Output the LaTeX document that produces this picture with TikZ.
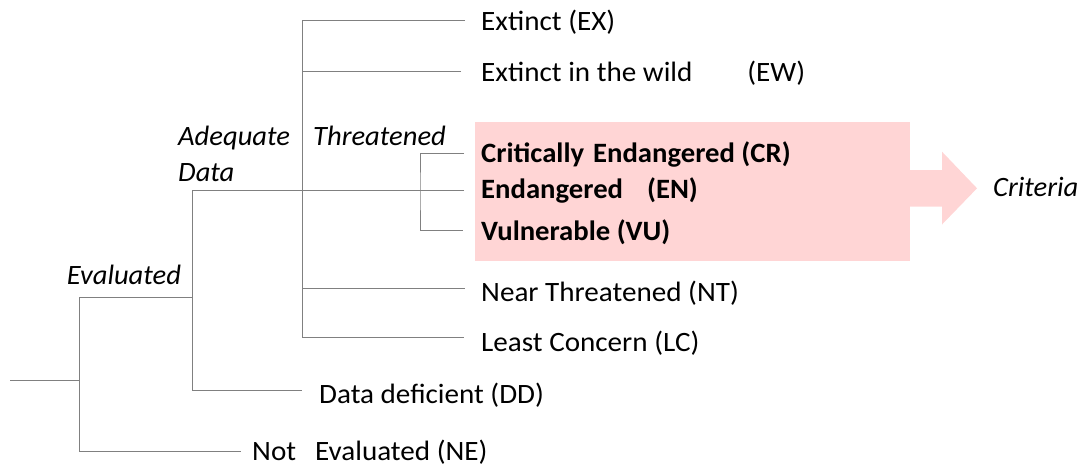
\documentclass[tikz,border=0pt]{standalone}
\usepackage{fontspec}
\setmainfont{Carlito}[UprightFeatures={FakeStretch=1.04},BoldFeatures={FakeStretch=1.025},ItalicFeatures={FakeStretch=1.02}]
\definecolor{pinkfill}{RGB}{255,213,213}
\definecolor{linegray}{RGB}{128,128,128}
\begin{document}
\begin{tikzpicture}[x=1pt,y=-1pt,
  lbl/.style={anchor=base west,inner sep=0pt,font=\fontsize{28}{32}\selectfont},
  itlbl/.style={anchor=base west,inner sep=0pt,font=\fontsize{28}{32}\selectfont\itshape},
  bdlbl/.style={anchor=base west,inner sep=0pt,font=\fontsize{28}{32}\selectfont\bfseries},
  br/.style={draw=linegray,line width=1pt}]
\useasboundingbox (0,0) rectangle (1083,466);
% pink box and block arrow
\fill[pinkfill] (475,121.7) rectangle (910,261.3);
\fill[pinkfill] (910,170) -- (942,170) -- (942,151.7) -- (977,188.3) -- (942,224.5) -- (942,206.7) -- (910,206.7) -- cycle;
% labels
\node[lbl] (ex) at (481,30.7) {Extinct (EX)};
\node[lbl] (ew) at (481,81.7) {Extinct in the wild\hspace{55pt}(EW)};
\node[bdlbl] (cr) at (481,162.7) {Critically\hspace{9pt}Endangered (CR)};
\node[bdlbl] (en) at (481,198.3) {Endangered\hspace{24pt}(EN)};
\node[bdlbl] (vu) at (481,240) {Vulnerable (VU)};
\node[lbl] (nt) at (481,301.7) {Near Threatened (NT)};
\node[lbl] (lc) at (481,351.7) {Least Concern (LC)};
\node[lbl] (dd) at (319,403.3) {Data deficient (DD)};
\node[lbl] (ne) at (252,460.5) {Not\hspace{19pt}Evaluated (NE)};
\node[itlbl] (adequate) at (178,145) {Adequate};
\node[itlbl] (data) at (178,181) {Data};
\node[itlbl] (threatened) at (313,145) {Threatened};
\node[itlbl] (evaluated) at (66.6,284.3) {Evaluated};
\node[itlbl] (criteria) at (993,196.7) {Criteria};
% tree coordinates
\coordinate (rootL) at (10,380.7);
\coordinate (rootJ) at (79.4,380.7);
\coordinate (evalJ) at (192.8,297.7);
\coordinate (neEnd) at (241,451);
\coordinate (enEnd) at (464,190.7);
\coordinate (ddEnd) at (302,390.7);
\coordinate (mainTop) at (302,20);
\coordinate (mainBot) at (302,337.3);
\coordinate (exEnd) at (465,20);
\coordinate (ewEnd) at (461,71.7);
\coordinate (ntEnd) at (464.6,288.7);
\coordinate (lcEnd) at (464,337.3);
\coordinate (thrJ) at (420,190.7);
\coordinate (crEnd) at (464,153.7);
\coordinate (vuEnd) at (463,230.7);
% tree connectors
\draw[br] (rootL) -- (rootJ);
\draw[br] (evalJ) -| (rootJ) |- (neEnd);
\draw[br] (enEnd) -| (evalJ) |- (ddEnd);
\draw[br] (exEnd) -- (mainTop) -- (mainBot) -- (lcEnd);
\draw[br] (ewEnd) -- (mainTop |- ewEnd);
\draw[br] (ntEnd) -- (mainTop |- ntEnd);
\draw[br] (crEnd) -| (thrJ) |- (vuEnd);
\end{tikzpicture}
\end{document}
